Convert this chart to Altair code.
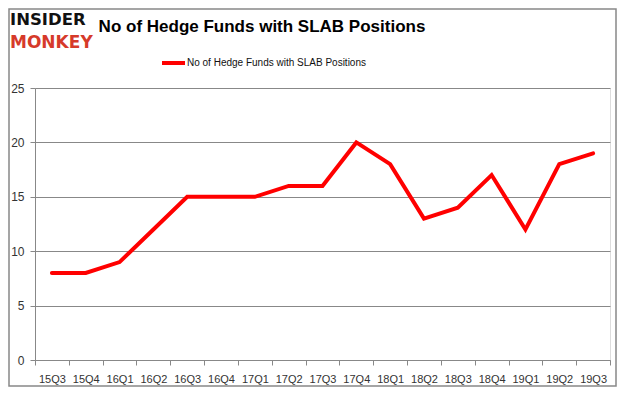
import altair as alt
import pandas as pd

quarters = ["15Q3", "15Q4", "16Q1", "16Q2", "16Q3", "16Q4", "17Q1", "17Q2", "17Q3",
            "17Q4", "18Q1", "18Q2", "18Q3", "18Q4", "19Q1", "19Q2", "19Q3"]
funds = [8, 8, 9, 12, 15, 15, 15, 16, 16, 20, 18, 13, 14, 17, 12, 18, 19]
series_name = "No of Hedge Funds with SLAB Positions"
title_text = "No of Hedge Funds with SLAB Positions"

df = pd.DataFrame({"q": quarters, "v": funds})
one = pd.DataFrame({"a": [0]})

W, H = 575, 272
FONT = "Liberation Sans"

line = alt.Chart(df).mark_line(color="#ff0000", strokeWidth=4, strokeCap="round").encode(
    x=alt.X("q:N", sort=quarters, title=None,
            scale=alt.Scale(paddingInner=0, paddingOuter=0),
            axis=alt.Axis(labelAngle=0, tickBand="extent", grid=False, domainColor="#888888",
                          tickColor="#888888", tickSize=5, labelPadding=8,
                          labelFont=FONT, labelFontSize=11, labelColor="#333333")),
    y=alt.Y("v:Q", title=None, scale=alt.Scale(domain=[0, 25]),
            axis=alt.Axis(values=[0, 5, 10, 15, 20, 25], gridColor="#888888", domainColor="#888888",
                          tickColor="#888888", tickSize=5, labelPadding=6,
                          labelFont=FONT, labelFontSize=12, labelColor="#333333")),
)

title = alt.Chart(one).mark_text(text=title_text, font=FONT, fontSize=17, fontWeight="bold",
                                 color="#000000", align="center", baseline="middle").encode(
    x=alt.value(227), y=alt.value(-61))

logo1 = alt.Chart(one).mark_text(text="INSIDER", font="DejaVu Sans", fontSize=16.5, fontWeight="bold",
                                 color="#111111", align="left", baseline="alphabetic").encode(
    x=alt.value(-25), y=alt.value(-63))
logo2 = alt.Chart(one).mark_text(text="MONKEY", font="DejaVu Sans", fontSize=17, fontWeight="bold",
                                 color="#d63a2a", align="left", baseline="alphabetic").encode(
    x=alt.value(-25), y=alt.value(-40))

leg_line = alt.Chart(one).mark_rule(color="#ff0000", strokeWidth=4).encode(
    x=alt.value(127), x2=alt.value(150), y=alt.value(-25))
leg_text = alt.Chart(one).mark_text(text=series_name, font=FONT, fontSize=10, color="#111111",
                                    align="left", baseline="middle").encode(
    x=alt.value(152), y=alt.value(-25))

border = alt.Chart(one).mark_rect(fill=None, stroke="#888888", strokeWidth=1.5).encode(
    x=alt.value(-26), x2=alt.value(581), y=alt.value(-79), y2=alt.value(298))

chart = alt.layer(border, line, title, logo1, logo2, leg_line, leg_text).properties(
    width=W, height=H,
    autosize=alt.AutoSizeParams(type="none"),
    padding={"left": 27, "top": 80, "right": 7, "bottom": 27},
).configure_view(stroke=None).configure(background="#ffffff")

chart.save("out.html", embed_options={"renderer": "svg", "actions": False})
